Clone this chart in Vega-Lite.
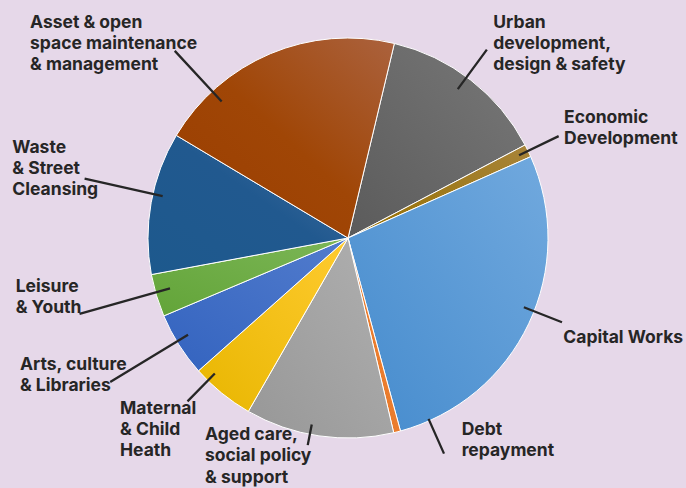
{
  "$schema": "https://vega.github.io/schema/vega-lite/v6.json",
  "width": 676,
  "height": 476,
  "autosize": "none",
  "padding": {"left": 10, "top": 0, "right": 0, "bottom": 12},
  "background": "#E6D8E9",
  "config": {
    "view": {"stroke": null},
    "arc": {"outerRadius": 200, "stroke": "white", "strokeWidth": 1},
    "text": {"font": "Inter", "fontWeight": "bold", "fontSize": 17.5, "lineHeight": 21.2, "fill": "#262626", "align": "left", "baseline": "alphabetic", "lineBreak": "\n"}
  },
  "data": {
    "values": [
      {"order": 1, "category": "Urban", "pct": 13.58, "label": "Urban\ndevelopment,\ndesign & safety"},
      {"order": 2, "category": "Economic", "pct": 1.03, "label": "Economic\nDevelopment"},
      {"order": 3, "category": "Capital", "pct": 27.44, "label": "Capital Works"},
      {"order": 4, "category": "Debt", "pct": 0.56, "label": "Debt\nrepayment"},
      {"order": 5, "category": "Aged", "pct": 11.97, "label": "Aged care,\nsocial policy\n& support"},
      {"order": 6, "category": "Maternal", "pct": 5.14, "label": "Maternal\n& Child\nHeath"},
      {"order": 7, "category": "Arts", "pct": 5.19, "label": "Arts, culture\n& Libraries"},
      {"order": 8, "category": "Leisure", "pct": 3.44, "label": "Leisure\n& Youth"},
      {"order": 9, "category": "Waste", "pct": 11.5, "label": "Waste\n& Street\nCleansing"},
      {"order": 10, "category": "Asset", "pct": 20.15, "label": "Asset & open\nspace maintenance\n& management"}
    ]
  },
  "transform": [
    {"stack": "pct", "groupby": [], "sort": [{"field": "order", "order": "ascending"}], "as": ["v0", "v1"]}
  ],
  "encoding": {
    "theta": {"field": "v0", "type": "quantitative", "scale": {"domain": [0, 100], "range": [0.2339, 6.5171]}}
  },
  "layer": [
    {"transform": [{"filter": "datum.category === 'Urban'"}], "mark": {"type": "arc", "fill": {"gradient": "linear", "x1": 0, "y1": 1, "x2": 1, "y2": 0, "stops": [{"offset": 0, "color": "#5B5B5B"}, {"offset": 1, "color": "#787878"}]}}, "encoding": {"theta2": {"field": "v1"}}},
    {"transform": [{"filter": "datum.category === 'Economic'"}], "mark": {"type": "arc", "fill": {"gradient": "linear", "x1": 0, "y1": 1, "x2": 1, "y2": 0, "stops": [{"offset": 0, "color": "#967000"}, {"offset": 1, "color": "#A8843A"}]}}, "encoding": {"theta2": {"field": "v1"}}},
    {"transform": [{"filter": "datum.category === 'Capital'"}], "mark": {"type": "arc", "fill": {"gradient": "linear", "x1": 0, "y1": 1, "x2": 1, "y2": 0, "stops": [{"offset": 0, "color": "#458BCD"}, {"offset": 1, "color": "#71A9DE"}]}}, "encoding": {"theta2": {"field": "v1"}}},
    {"transform": [{"filter": "datum.category === 'Debt'"}], "mark": {"type": "arc", "fill": {"gradient": "linear", "x1": 0, "y1": 1, "x2": 1, "y2": 0, "stops": [{"offset": 0, "color": "#E36F1C"}, {"offset": 1, "color": "#F28A40"}]}}, "encoding": {"theta2": {"field": "v1"}}},
    {"transform": [{"filter": "datum.category === 'Aged'"}], "mark": {"type": "arc", "fill": {"gradient": "linear", "x1": 0, "y1": 1, "x2": 1, "y2": 0, "stops": [{"offset": 0, "color": "#979797"}, {"offset": 1, "color": "#B0B0B0"}]}}, "encoding": {"theta2": {"field": "v1"}}},
    {"transform": [{"filter": "datum.category === 'Maternal'"}], "mark": {"type": "arc", "fill": {"gradient": "linear", "x1": 0, "y1": 1, "x2": 1, "y2": 0, "stops": [{"offset": 0, "color": "#E8B600"}, {"offset": 1, "color": "#FFCB30"}]}}, "encoding": {"theta2": {"field": "v1"}}},
    {"transform": [{"filter": "datum.category === 'Arts'"}], "mark": {"type": "arc", "fill": {"gradient": "linear", "x1": 0, "y1": 1, "x2": 1, "y2": 0, "stops": [{"offset": 0, "color": "#3363BF"}, {"offset": 1, "color": "#527CCD"}]}}, "encoding": {"theta2": {"field": "v1"}}},
    {"transform": [{"filter": "datum.category === 'Leisure'"}], "mark": {"type": "arc", "fill": {"gradient": "linear", "x1": 0, "y1": 1, "x2": 1, "y2": 0, "stops": [{"offset": 0, "color": "#62A438"}, {"offset": 1, "color": "#7CB656"}]}}, "encoding": {"theta2": {"field": "v1"}}},
    {"transform": [{"filter": "datum.category === 'Waste'"}], "mark": {"type": "arc", "fill": {"gradient": "linear", "x1": 0, "y1": 1, "x2": 1, "y2": 0, "stops": [{"offset": 0, "color": "#1D598D"}, {"offset": 0.55, "color": "#21598F"}, {"offset": 1, "color": "#4C74A4"}]}}, "encoding": {"theta2": {"field": "v1"}}},
    {"transform": [{"filter": "datum.category === 'Asset'"}], "mark": {"type": "arc", "fill": {"gradient": "linear", "x1": 0, "y1": 1, "x2": 1, "y2": 0, "stops": [{"offset": 0, "color": "#9A3D00"}, {"offset": 0.5, "color": "#A04606"}, {"offset": 1, "color": "#AB623E"}]}}, "encoding": {"theta2": {"field": "v1"}}},
    {"transform": [{"filter": "datum.category === 'Asset'"}], "mark": {"type": "arc", "filled": false, "color": "#262626", "strokeWidth": 2.3, "thetaOffset": 0.2854, "theta2Offset": 0.2854}, "encoding": {"theta2": {"field": "v0"}, "radius": {"value": 255}, "radius2": {"value": 186}}},
    {"transform": [{"filter": "datum.category === 'Urban'"}], "mark": {"type": "arc", "filled": false, "color": "#262626", "strokeWidth": 2.3, "thetaOffset": 0.4014, "theta2Offset": 0.4014}, "encoding": {"theta2": {"field": "v0"}, "radius": {"value": 234}, "radius2": {"value": 185}}},
    {"transform": [{"filter": "datum.category === 'Economic'"}], "mark": {"type": "arc", "filled": false, "color": "#262626", "strokeWidth": 2.3, "thetaOffset": 0.0333, "theta2Offset": 0.0333}, "encoding": {"theta2": {"field": "v0"}, "radius": {"value": 234}, "radius2": {"value": 190}}},
    {"transform": [{"filter": "datum.category === 'Capital'"}], "mark": {"type": "arc", "filled": false, "color": "#262626", "strokeWidth": 2.3, "thetaOffset": 0.7941, "theta2Offset": 0.7941}, "encoding": {"theta2": {"field": "v0"}, "radius": {"value": 230}, "radius2": {"value": 189}}},
    {"transform": [{"filter": "datum.category === 'Debt'"}], "mark": {"type": "arc", "filled": false, "color": "#262626", "strokeWidth": 2.3, "thetaOffset": -0.1533, "theta2Offset": -0.1533}, "encoding": {"theta2": {"field": "v0"}, "radius": {"value": 236}, "radius2": {"value": 198}}},
    {"transform": [{"filter": "datum.category === 'Aged'"}], "mark": {"type": "arc", "filled": false, "color": "#262626", "strokeWidth": 2.3, "thetaOffset": 0.4224, "theta2Offset": 0.4224}, "encoding": {"theta2": {"field": "v0"}, "radius": {"value": 211}, "radius2": {"value": 190}}},
    {"transform": [{"filter": "datum.category === 'Maternal'"}], "mark": {"type": "arc", "filled": false, "color": "#262626", "strokeWidth": 2.3, "thetaOffset": 0.255, "theta2Offset": 0.255}, "encoding": {"theta2": {"field": "v0"}, "radius": {"value": 229}, "radius2": {"value": 190}}},
    {"transform": [{"filter": "datum.category === 'Arts'"}], "mark": {"type": "arc", "filled": false, "color": "#262626", "strokeWidth": 2.3, "thetaOffset": 0.1817, "theta2Offset": 0.1817}, "encoding": {"theta2": {"field": "v0"}, "radius": {"value": 278}, "radius2": {"value": 187}}},
    {"transform": [{"filter": "datum.category === 'Leisure'"}], "mark": {"type": "arc", "filled": false, "color": "#262626", "strokeWidth": 2.3, "thetaOffset": 0.1244, "theta2Offset": 0.1244}, "encoding": {"theta2": {"field": "v0"}, "radius": {"value": 279}, "radius2": {"value": 185}}},
    {"transform": [{"filter": "datum.category === 'Waste'"}], "mark": {"type": "arc", "filled": false, "color": "#262626", "strokeWidth": 2.3, "thetaOffset": 0.4058, "theta2Offset": 0.4058}, "encoding": {"theta2": {"field": "v0"}, "radius": {"value": 270}, "radius2": {"value": 190}}},
    {"transform": [{"filter": "datum.category === 'Asset'"}], "mark": {"type": "text", "thetaOffset": 0.0459}, "encoding": {"radius": {"value": 381.3}, "text": {"field": "label"}}},
    {"transform": [{"filter": "datum.category === 'Urban'"}], "mark": {"type": "text", "thetaOffset": 0.3707}, "encoding": {"radius": {"value": 255.6}, "text": {"field": "label"}}},
    {"transform": [{"filter": "datum.category === 'Economic'"}], "mark": {"type": "text", "thetaOffset": -0.0045}, "encoding": {"radius": {"value": 244.6}, "text": {"field": "label"}}},
    {"transform": [{"filter": "datum.category === 'Capital'"}], "mark": {"type": "text", "thetaOffset": 0.8714}, "encoding": {"radius": {"value": 239.4}, "text": {"field": "label"}}},
    {"transform": [{"filter": "datum.category === 'Debt'"}], "mark": {"type": "text", "thetaOffset": -0.2571}, "encoding": {"radius": {"value": 227.7}, "text": {"field": "label"}}},
    {"transform": [{"filter": "datum.category === 'Aged'"}], "mark": {"type": "text", "thetaOffset": 0.8458}, "encoding": {"radius": {"value": 247.7}, "text": {"field": "label"}}},
    {"transform": [{"filter": "datum.category === 'Maternal'"}], "mark": {"type": "text", "thetaOffset": 0.3925}, "encoding": {"radius": {"value": 287.8}, "text": {"field": "label"}}},
    {"transform": [{"filter": "datum.category === 'Arts'"}], "mark": {"type": "text", "thetaOffset": 0.3437}, "encoding": {"radius": {"value": 353.6}, "text": {"field": "label"}}},
    {"transform": [{"filter": "datum.category === 'Leisure'"}], "mark": {"type": "text", "thetaOffset": 0.24}, "encoding": {"radius": {"value": 336.6}, "text": {"field": "label"}}},
    {"transform": [{"filter": "datum.category === 'Waste'"}], "mark": {"type": "text", "thetaOffset": 0.433}, "encoding": {"radius": {"value": 346.4}, "text": {"field": "label"}}}
  ]
}
